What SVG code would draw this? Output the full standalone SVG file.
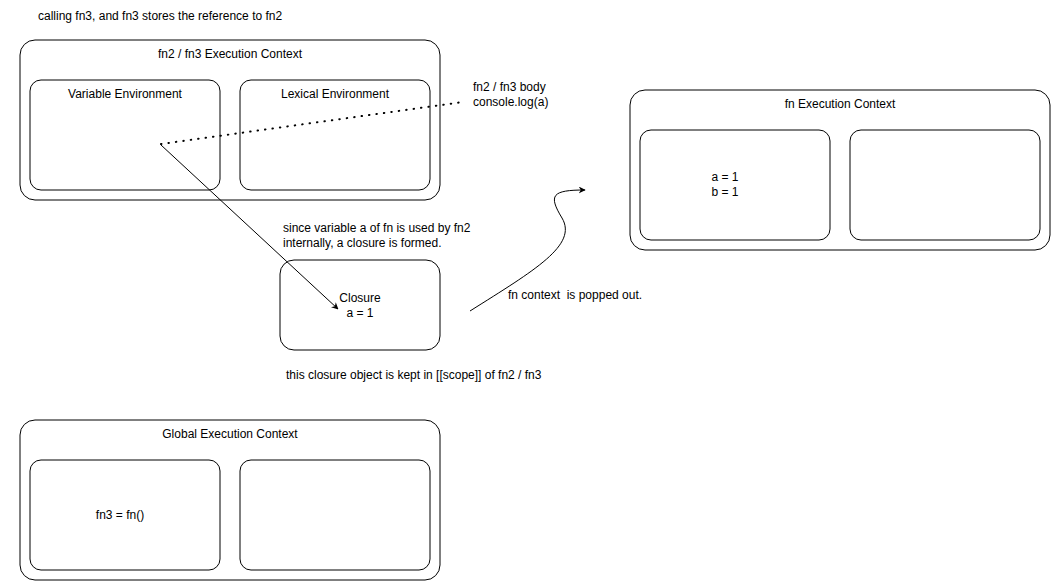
<svg xmlns="http://www.w3.org/2000/svg" width="1051" height="581" viewBox="0 0 1051 581">
<style>
.b{fill:#fff;stroke:#000;stroke-width:1}
text{font-family:"Liberation Sans",Arial,sans-serif;font-size:12px;fill:#000}
.c{text-anchor:middle}
.p{white-space:pre}
</style>
<defs>
<marker id="ah" viewBox="0 0 10 10" refX="9" refY="5" markerWidth="7" markerHeight="7" orient="auto" markerUnits="userSpaceOnUse">
<path d="M0,0 L10,5 L0,10 L3,5 Z" fill="#000"/>
</marker>
</defs>
<rect width="1051" height="581" fill="#fff"/>
<text x="38" y="20">calling fn3, and fn3 stores the reference to fn2</text>
<g id="fn2ec">
<rect class="b" x="20" y="40" width="420" height="160" rx="15"/>
<text class="c" x="230" y="58">fn2 / fn3 Execution Context</text>
</g>
<g id="varenv">
<rect class="b" x="30" y="80" width="190" height="110" rx="11"/>
<text class="c" x="125" y="98">Variable Environment</text>
</g>
<g id="lexenv">
<rect class="b" x="240" y="80" width="190" height="110" rx="11"/>
<text class="c" x="335" y="98">Lexical Environment</text>
</g>
<g id="body">
<text x="473" y="91">fn2 / fn3 body</text>
<text x="473" y="106">console.log(a)</text>
</g>
<g id="fnec">
<rect class="b" x="630" y="90" width="420" height="160" rx="15"/>
<text class="c" x="840" y="108">fn Execution Context</text>
</g>
<g id="fnvar">
<rect class="b" x="640" y="130" width="190" height="110" rx="11"/>
<text class="c" x="725" y="181">a = 1</text>
<text class="c" x="725" y="196">b = 1</text>
</g>
<g id="fnlex">
<rect class="b" x="850" y="130" width="190" height="110" rx="11"/>
</g>
<g id="note1">
<text x="283" y="232">since variable a of fn is used by fn2</text>
<text x="283" y="247">internally, a closure is formed.</text>
</g>
<g id="closure">
<rect class="b" x="280" y="260" width="160" height="90" rx="14"/>
<text class="c" x="360" y="302">Closure</text>
<text class="c" x="360" y="317">a = 1</text>
</g>
<g id="note2">
<text class="p" x="508" y="299" xml:space="preserve">fn context  is popped out.</text>
</g>
<g id="note3">
<text x="286" y="379">this closure object is kept in [[scope]] of fn2 / fn3</text>
</g>
<g id="gec">
<rect class="b" x="20" y="420" width="420" height="160" rx="15"/>
<text class="c" x="230" y="438">Global Execution Context</text>
</g>
<g id="gvar">
<rect class="b" x="30" y="460" width="190" height="110" rx="11"/>
<text class="c" x="120" y="519">fn3 = fn()</text>
</g>
<g id="glex">
<rect class="b" x="240" y="460" width="190" height="110" rx="11"/>
</g>
<g id="connectors" fill="none" stroke="#000">
<path d="M161,144 L463,102" stroke-width="2" stroke-dasharray="0.5 7" stroke-linecap="round"/>
<path d="M161,145 L338,309" stroke-width="1" marker-end="url(#ah)"/>
<path d="M470,311 C535,270 578,245 562,218 C548,195 552,190 585,190" stroke-width="1" marker-end="url(#ah)"/>
</g>
</svg>
